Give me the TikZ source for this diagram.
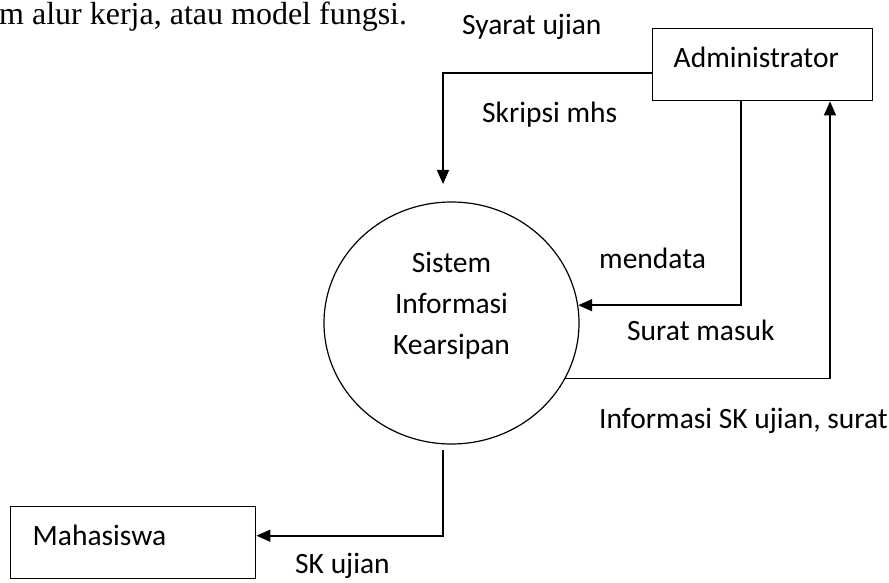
\documentclass[tikz,border=0pt]{standalone}
\usepackage{fontspec}
\setmainfont{Carlito}
\newfontfamily\timesfont{Liberation Serif}
\usepackage{tikz}
\usetikzlibrary{arrows.meta,shapes.geometric}

\tikzset{
  flow/.style={line width=1.6pt,-{Triangle[length=14pt,width=12pt]}},
  entity/.style={draw,line width=1.4pt,rectangle,anchor=north west,inner ysep=0pt,
    text height=39pt,text depth=33pt,align=left},
  lbl/.style={anchor=base west,inner sep=0pt}
}

\begin{document}
\begin{tikzpicture}[x=1pt,y=-1pt,font=\fontsize{29.5}{41}\selectfont]
\useasboundingbox (0,0) rectangle (889,583);

% heading text cut from the page
\node[lbl,font=\timesfont\fontsize{32}{34}\selectfont] (head) at (-1,25) {m alur kerja, atau model fungsi.};

% entities and process
\node[entity,inner xsep=21pt,text width=178pt] (adm) at (652,28) {Administrator};
\node[entity,inner xsep=22pt,text width=201pt] (mhs) at (10,506) {Mahasiswa};
\node[draw,ellipse,line width=1.2pt,minimum width=255pt,minimum height=242pt,inner sep=0pt] (sis) at (451.5,323) {};
\node[align=center] (sistxt) at ([yshift=17pt]sis.center) {Sistem\\Informasi\\Kearsipan};

% free ends
\coordinate (intop) at (443,184);
\coordinate (outbot) at (443,450);

% flows
\draw[flow] ([yshift=-8.5pt]adm.west) -| (intop);
\draw[flow] (adm.south -| 741,0) |- (sis.8.6);
\draw[flow] (sis.-26) -| (adm.south -| 830,0);
\draw[flow] (outbot) |- ([yshift=7pt]mhs.east);

% flow labels
\node[lbl] (syarat) at (462,35) {Syarat ujian};
\node[lbl] (skripsi) at (482,123) {Skripsi mhs};
\node[lbl] (mendata) at (599,268) {mendata};
\node[lbl] (suratm) at (627,340) {Surat masuk};
\node[lbl] (info) at (599,428) {Informasi SK ujian, surat};
\node[lbl] (skujian) at (295,573) {SK ujian};

\end{tikzpicture}
\end{document}
